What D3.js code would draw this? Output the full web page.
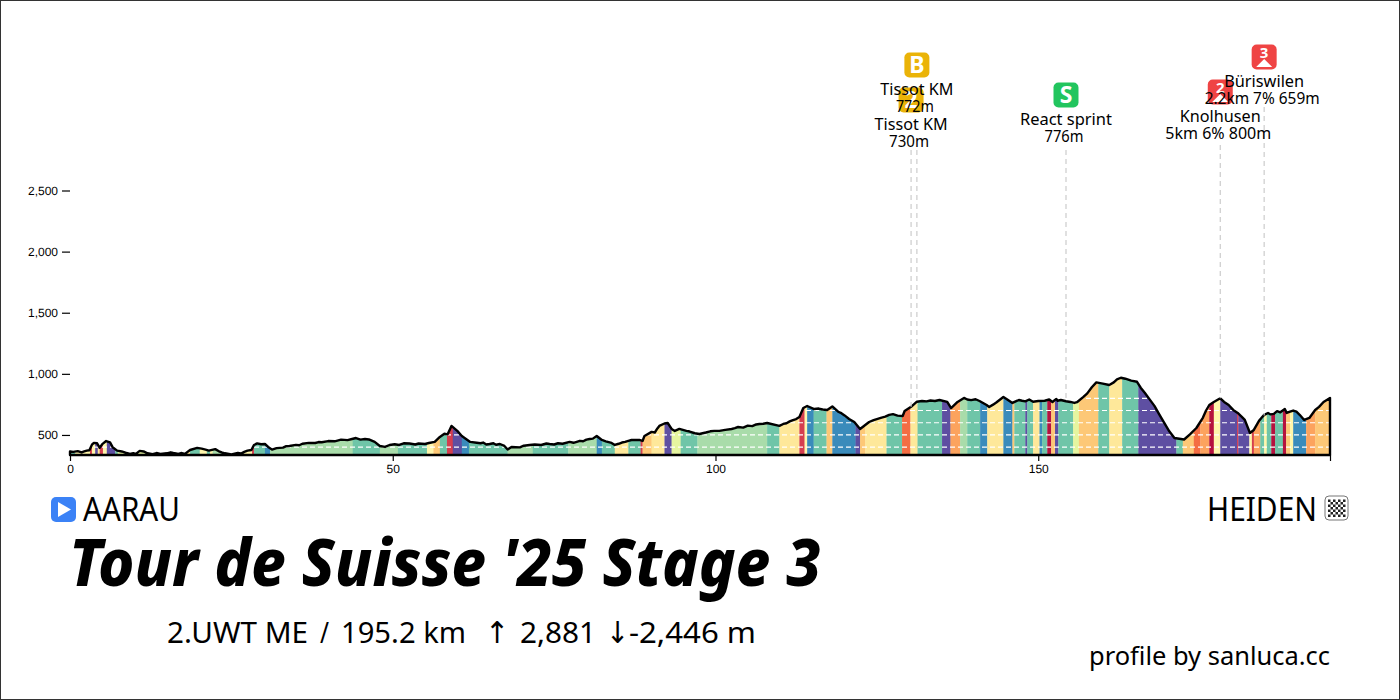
<!DOCTYPE html>
<html>
<head>
<meta charset="utf-8">
<script src="https://cdn.jsdelivr.net/npm/d3@7"></script>
<style>
  body { margin: 0; background: #fff; }
  svg { display: block; }
  .lbl { font-family: "Noto Sans", sans-serif; fill: #000; }
  .tick text { font-family: "Liberation Sans", Arial, sans-serif; font-size: 12px; fill: #000; text-rendering: geometricPrecision; }
</style>
</head>
<body>
<svg id="chart" width="1400" height="700"></svg>
<script>
// elevation profile, km and metres
var profileKm = [0,0.5,1.2,2.2,3.0,3.4,3.7,4.2,4.6,5.0,5.6,6.2,6.6,7.3,8,9.3,10.2,10.8,11.4,12,14,16,17.8,18.6,19.7,21,21.5,22,23,24,25,27,28.1,28.5,30.2,30.7,31.3,32,34,37,40,43.7,45.7,47.2,48,48.8,49.5,52.6,55,56.5,57.3,58,58.5,59.1,60,60.7,62,65,66.6,67.3,67.8,68.4,69.7,71.2,74.3,77.4,80.5,81.6,82.4,83.9,84.4,86,87,88.2,88.7,89,90.1,91.3,92.1,92.6,93.2,93.7,94.4,95.5,97.5,99.8,100.6,103.5,106.8,108,109.9,111.5,113,113.6,114.2,115.3,117.3,118.1,120.7,121.5,122.4,123.8,126.9,129,129.3,130.3,131.2,134.7,135.9,136.5,137.5,138.5,140.9,142,142.4,143.5,144.6,146,147,150,151.7,153.5,154.3,155.6,157,159,161,162.8,165.3,165.9,167.2,168.7,171.1,172.6,174.5,176.5,177.2,178.2,178.8,180.9,182,182.8,183.4,184.2,185,186.5,188.9,190,191.2,192,192.9,195.2];
var profileEle = [365,362,368,366,375,420,435,432,395,425,450,440,400,372,365,345,345,370,365,350,345,353,345,377,394,380,372,378,368,350,340,362,377,418,426,402,380,392,410,435,450,467,467,443,410,402,418,430,426,443,484,510,505,574,533,492,443,426,426,410,381,402,398,418,426,443,467,492,459,435,418,443,459,459,451,492,525,574,594,598,549,533,549,533,508,533,533,565,590,598,574,611,647,720,737,712,704,733,631,606,549,606,664,655,696,730,772,786,770,720,770,803,778,745,729,765,811,762,786,778,790,786,776,762,811,930,909,968,935,885,795,672,475,463,557,745,770,800,770,680,623,516,541,615,664,672,688,690,623,639,704,803];
// small bumps between the main points
var bumpKm = [1.8,2.6,8.6,9.8,12.8,13.4,15,15.6,16.8,17.2,20.4,22.5,23.5,26,26.5,27.5,29,29.6,33,33.5,35,35.5,36,38,38.5,39,41,42,43,44.3,45,46.3,50.3,51,51.7,53.5,54,55.6,63,63.6,64,64.5,65.6,66,70.3,72,73,73.8,75,75.6,76.3,78,79,79.5,80,81,83,85,85.5,86.5,90.6,91,96,96.8,98.5,99.2,101.5,102.5,103,104.3,105,105.7,106.3,107.4,110.5,111,112,112.5,116,116.6,119,119.5,120,124.5,125,125.6,126.3,127.5,128.2,132,132.7,133.3,134,139,139.6,140.3,143,145.2,146.5,147.5,148,148.6,149.2,151,152.2,152.8,153,155,156,157.6,158.3,160,161.7,162.2,163.5,164.4,166.5,168,169.5,170.3,173.5,175.5,176,179.5,180.2,181.5,184.6,185.6,186,187,187.5,188.2,188.5,189.5,190.5,193.5,194.2];
var bumpEle = [358,372,355,350,342,352,350,358,345,352,388,384,358,352,348,372,431,424,396,408,419,416,428,434,442,440,448,462,458,475,462,463,424,418,432,422,430,434,436,432,438,422,432,420,412,422,418,430,422,432,428,436,452,448,462,470,448,428,438,452,520,553,528,514,520,530,542,549,556,560,576,572,586,592,590,596,622,630,716,708,690,678,660,622,630,640,650,670,658,778,775,782,778,790,785,792,748,790,775,780,775,790,772,780,770,795,780,770,768,840,890,920,930,955,960,945,845,738,600,530,505,640,700,745,705,650,640,680,668,695,685,712,680,700,665,730,770];

// gradient bands: end km of each band and its class
var bandEnds = [0.8,3.1,3.4,3.9,4.3,4.6,5.1,5.7,7.0,7.4,18.1,18.6,20.1,21.2,21.7,22.1,24.5,28.2,28.5,30.2,31.0,43.8,48.0,50.8,55.3,56.3,57.3,58.4,59.3,60.7,61.8,67.8,71.7,77.2,81.6,82.4,84.4,86.5,88.4,88.7,90.1,92.1,93.2,94.6,97.2,108.0,109.9,113.0,113.8,114.2,115.2,117.2,118.1,121.7,122.4,123.2,126.5,128.9,130.2,131.3,135.1,136.4,137.9,139.0,141.0,142.1,144.6,146.0,146.3,148.0,148.3,149.2,150.2,150.6,151.4,152.0,152.6,153.1,155.4,156.3,159.3,161.0,163.0,165.5,171.4,172.4,174.1,175.1,176.5,177.2,178.2,180.8,181.0,182.7,183.1,183.4,184.4,185.0,185.4,186.1,186.7,187.9,188.4,189.0,189.5,191.5,192.9,195.2];
var bandClasses = ["t","p","r","p","v","y","r","p","v","t","g","y","t","p","t","p","l","p","r","t","b","l","t","l","t","p","o","t","r","v","b","t","l","t","l","b","t","y","t","r","o","y","v","g","t","l","t","y","r","p","b","t","o","b","v","o","y","t","d","y","t","v","O","l","t","b","y","b","o","t","v","t","y","b","t","c","o","v","t","g","o","t","y","t","v","t","o","d","O","c","p","v","r","v","p","r","O","t","p","t","c","t","c","o","p","b","O","o"];
var classColors = { t:"#6fc5a8", l:"#a9dcaa", g:"#e6f5a0", p:"#fff6ab", y:"#fee89a", o:"#fdc877", O:"#fca35e", d:"#f46d43", r:"#d53e4f", c:"#b5123f", b:"#3a8bbb", v:"#5e4fa2" };

// white dashed elevation lines inside the profile
var gridEle = [400,500,600,700,800];
var yTicks = [500,1000,1500,2000,2500];
var xTicks = [0,50,100,150,195.2];

// marks along the route
var markKm = [130.3,131.2,154.3,178.2,185];
var markEle = [730,772,776,800,659];
var markTop = [150,150,150,145,107];
var markIconY = [100,65,95,92,57];
var markColor = ["#eab308","#eab308","#22c55e","#ef4444","#ef4444"];
var markGlyph = ["2","B","S","2","3"];
var markIsClimb = [false,false,false,true,true];
var markName = ["Tissot KM","Tissot KM","React sprint","Knolhusen","Büriswilen"];
var markInfo = ["730m","772m","776m","5km 6% 800m","2.2km 7% 659m"];
var markNameW = [73,73,92,81,80];
var markInfoW = [40,38,39,106,115];

var svg = d3.select("#chart");

var x = d3.scaleLinear().domain([0,195.2]).range([70,1330]);
var y = d3.scaleLinear().domain([336,2500]).range([455,190.5]);

var profile = profileKm.map((km,i) => ({km: km, ele: profileEle[i]}))
  .concat(bumpKm.map((km,i) => ({km: km, ele: bumpEle[i]})))
  .sort((a,b) => a.km - b.km);
var area = d3.area().x(d => x(d.km)).y0(y(336)).y1(d => y(d.ele));

svg.append("rect").attr("x",0.5).attr("y",0.5).attr("width",1399).attr("height",699)
  .attr("fill","#fff").attr("stroke","#333");

svg.append("clipPath").attr("id","profileClip").append("path").attr("d",area(profile));

var inside = svg.append("g").attr("clip-path","url(#profileClip)");

// colour bands
inside.selectAll("rect").data(bandEnds).join("rect")
  .attr("x",(d,i) => x(i ? bandEnds[i-1] : 0))
  .attr("width",(d,i) => x(d) - x(i ? bandEnds[i-1] : 0) + 0.3)
  .attr("y",y(1100)).attr("height",y(336) - y(1100))
  .attr("fill",(d,i) => classColors[bandClasses[i]]);

inside.selectAll("line").data(gridEle).join("line")
  .attr("x1",x(0)).attr("x2",x(195.2))
  .attr("y1",d => y(d)).attr("y2",d => y(d))
  .attr("stroke","#fff").attr("stroke-width",1.2).attr("stroke-dasharray","5 3");

// outline
svg.append("path").attr("d",area(profile))
  .attr("fill","none").attr("stroke","#000").attr("stroke-width",2.4).attr("stroke-linejoin","round");

// axes
var xAxis = svg.append("g").attr("transform","translate(0,455)")
  .call(d3.axisBottom(x).tickValues(xTicks).tickSize(6).tickFormat(d => d === 195.2 ? "" : d3.format("d")(d)));
xAxis.select(".domain").remove();
xAxis.selectAll("line").attr("stroke-width",1.2);

var yAxis = svg.append("g").attr("transform","translate(70,0)")
  .call(d3.axisLeft(y).tickValues(yTicks).tickSize(8).tickFormat(d3.format(",")));
yAxis.select(".domain").remove();
yAxis.selectAll("line").attr("stroke-width",1.2);
yAxis.selectAll("text").attr("x",-12);

// dashed leaders, icons, labels
var marks = svg.append("g");
markKm.forEach((km,i) => {
  marks.append("line").attr("x1",x(km)).attr("x2",x(km))
    .attr("y1",markTop[i]).attr("y2",y(markEle[i]))
    .attr("stroke","#ccc").attr("stroke-width",1.2).attr("stroke-dasharray","5 4");
});

function label(txt, px, py, size, width, anchor, extra) {
  var t = svg.append("text").attr("class","lbl").attr("x",px).attr("y",py)
    .attr("font-size",size).attr("text-anchor",anchor || "middle").text(txt);
  if (width) t.attr("textLength",width).attr("lengthAdjust","spacingAndGlyphs");
  if (extra) extra(t);
  return t;
}

markKm.forEach((km,i) => {
  var cx = x(km), cy = markIconY[i];
  marks.append("rect").attr("x",cx-12.5).attr("y",cy-12.5).attr("width",25).attr("height",25)
    .attr("rx",5).attr("fill",markColor[i]);
  if (markIsClimb[i]) {
    svg.append("text").attr("class","lbl").attr("x",cx).attr("y",cy+1).attr("text-anchor","middle")
      .attr("font-size",15).attr("font-weight",700).style("fill","#fff").text(markGlyph[i]);
    svg.append("path").attr("d",`M${cx-8},${cy+10} L${cx},${cy+2} L${cx+8},${cy+10} Z`).attr("fill","#fff");
  } else {
    svg.append("text").attr("class","lbl").attr("x",cx).attr("y",cy+8).attr("text-anchor","middle")
      .attr("font-size",23).attr("font-weight",700).style("fill","#fff").text(markGlyph[i]);
  }
});
markKm.forEach((km,i) => {
  var cx = x(km), cy = markIconY[i];
  label(markName[i], cx, cy+30, 16, markNameW[i]);
  label(markInfo[i], cx-2, cy+47, 16, markInfoW[i]);
});

// start and finish
svg.append("rect").attr("x",51).attr("y",497).attr("width",25).attr("height",25).attr("rx",5).attr("fill","#3b82f6");
svg.append("path").attr("d","M58,502 L71,509.5 L58,517 Z").attr("fill","#fff");
label("AARAU", 83, 521, 32, 97, "start");
label("HEIDEN", 1207, 521, 32, 110, "start");

// finish flag, checker squares
var checker = svg.append("g");
checker.append("rect").attr("x",1325).attr("y",496).attr("width",23).attr("height",24).attr("rx",4)
  .attr("fill","#fff").attr("stroke","#777");
d3.range(0,7).forEach(r => d3.range(0,7).forEach(c => {
  if ((r+c) % 2 === 0) checker.append("rect").attr("x",1328+c*2.5).attr("y",499.5+r*2.5)
    .attr("width",2.5).attr("height",2.5).attr("fill","#222");
}));

// titles
label("Tour de Suisse '25 Stage 3", 69, 586, 66, 752, "start", t => t.attr("font-weight",800).attr("font-style","italic"));
label("2.UWT ME", 167, 643, 29, 141, "start");
label("/", 320, 643, 29, 9, "start");
label("195.2 km", 341, 643, 29, 125, "start");
label("↑", 485, 643, 30, 24, "start", t => t.style("font-family","'DejaVu Sans'"));
label("2,881", 520, 643, 29, 76, "start");
label("↓", 606, 643, 30, 23, "start", t => t.style("font-family","'DejaVu Sans'"));
label("-2,446 m", 629, 643, 29, 127, "start");
label("profile by sanluca.cc", 1089, 665, 25, 241, "start");
</script>
</body>
</html>
